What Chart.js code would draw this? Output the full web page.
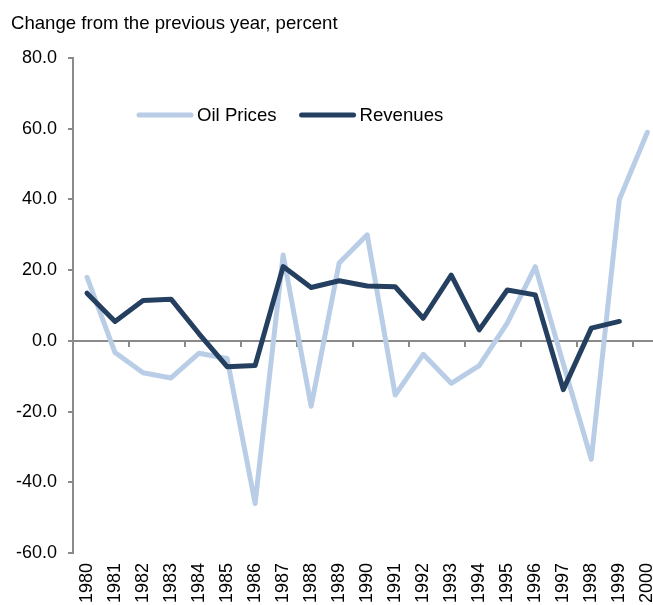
<!DOCTYPE html>
<html>
<head>
<meta charset="utf-8">
<title>Oil Prices and Revenues</title>
<script src="https://cdn.jsdelivr.net/npm/chart.js@4.4.1/dist/chart.umd.min.js"></script>
<style>
  html, body { margin: 0; padding: 0; background: #fff; overflow: hidden; }
  #wrap { position: relative; width: 679px; height: 605px; }
</style>
</head>
<body>
<div id="wrap"><canvas id="chart"></canvas></div>
<script>
// Annual change, percent
const years = ['1980','1981','1982','1983','1984','1985','1986','1987','1988','1989','1990',
               '1991','1992','1993','1994','1995','1996','1997','1998','1999','2000'];
const oilPrices = [18, -3.3, -9, -10.5, -3.5, -5, -46, 24.3, -18.5, 22, 30,
                   -15.3, -3.8, -12, -7, 5, 21, -6.5, -33.5, 40, 59];
const revenues  = [13.5, 5.5, 11.4, 11.8, 2, -7.3, -7, 21, 15.1, 17, 15.5,
                   15.3, 6.4, 18.6, 3.1, 14.4, 13, -13.8, 3.6, 5.5, null];
const yTicks = { min: -60, max: 80, step: 20 };

const FONT = "'Liberation Sans', Arial, Helvetica, sans-serif";
const AXIS_GREY = '#8a8a8a';
const LIGHT = '#b9cee6';
const DARK = '#243f60';

Chart.defaults.font.family = FONT;
Chart.defaults.font.size = 18;
Chart.defaults.color = '#000';

// Legend drawn inside the plot area, line swatch followed by the label
const insideLegend = {
  id: 'insideLegend',
  afterDraw(chart, args, opts) {
    const ctx = chart.ctx;
    ctx.save();
    ctx.font = opts.fontSize + 'px ' + FONT;
    ctx.textBaseline = 'middle';
    ctx.fillStyle = '#000';
    let x = opts.x;
    const y = opts.y;
    chart.data.datasets.forEach(ds => {
      ctx.strokeStyle = ds.borderColor;
      ctx.lineWidth = 5;
      ctx.lineCap = 'round';
      ctx.beginPath();
      ctx.moveTo(x + 2, y);
      ctx.lineTo(x + opts.swatch - 2, y);
      ctx.stroke();
      x += opts.swatch + 4;
      ctx.fillText(ds.label, x, y + 1);
      x += ctx.measureText(ds.label).width + opts.gap;
    });
    ctx.restore();
  }
};

new Chart(document.getElementById('chart'), {
  type: 'line',
  data: {
    labels: years,
    datasets: [
      {
        label: 'Oil Prices',
        data: oilPrices,
        borderColor: LIGHT,
        backgroundColor: LIGHT,
        borderWidth: 5,
        pointRadius: 0,
        borderCapStyle: 'round',
        borderJoinStyle: 'round',
        tension: 0,
        order: 2
      },
      {
        label: 'Revenues',
        data: revenues,
        borderColor: DARK,
        backgroundColor: DARK,
        borderWidth: 5,
        pointRadius: 0,
        borderCapStyle: 'round',
        borderJoinStyle: 'round',
        tension: 0,
        spanGaps: false,
        order: 1
      }
    ]
  },
  options: {
    responsive: true,
    maintainAspectRatio: false,
    devicePixelRatio: 1,
    animation: false,
    layout: { padding: { left: 11, right: 2, top: 0, bottom: 0 } },
    plugins: {
      legend: { display: false },
      tooltip: { enabled: false },
      title: {
        display: true,
        text: 'Change from the previous year, percent',
        align: 'start',
        color: '#000',
        font: { size: 18.6, weight: 'normal', family: FONT },
        padding: { top: 13, bottom: 22.7 }
      },
      insideLegend: { x: 137, y: 115, swatch: 56, gap: 23, fontSize: 18.6 }
    },
    scales: {
      x: {
        type: 'category',
        position: 'bottom',
        offset: true,
        border: { display: false },
        grid: { display: false, drawTicks: false, offset: true },
        ticks: {
          autoSkip: false,
          maxRotation: 90,
          minRotation: 90,
          padding: 10,
          color: '#000',
          font: { size: 18 }
        },
        afterFit(scale) { scale.height = 52; }
      },
      xZero: {
        type: 'category',
        position: { y: 0 },
        offset: true,
        border: { display: true, color: AXIS_GREY, width: 2 },
        grid: {
          offset: true,
          drawOnChartArea: false,
          drawTicks: true,
          tickLength: 5,
          lineWidth: 2,
          color: c => (c.index !== undefined && c.index % 2 === 0) ? AXIS_GREY : 'rgba(0,0,0,0)'
        },
        ticks: { display: false }
      },
      y: {
        min: yTicks.min,
        max: yTicks.max,
        border: { display: true, color: AXIS_GREY, width: 2 },
        grid: {
          drawOnChartArea: false,
          drawTicks: true,
          tickLength: 5,
          lineWidth: 2,
          color: AXIS_GREY
        },
        ticks: {
          stepSize: yTicks.step,
          padding: 11,
          color: '#000',
          font: { size: 18 },
          callback: v => Number(v).toFixed(1)
        },
        afterFit(scale) { scale.width = 62; }
      }
    }
  },
  plugins: [insideLegend]
});
</script>
</body>
</html>
